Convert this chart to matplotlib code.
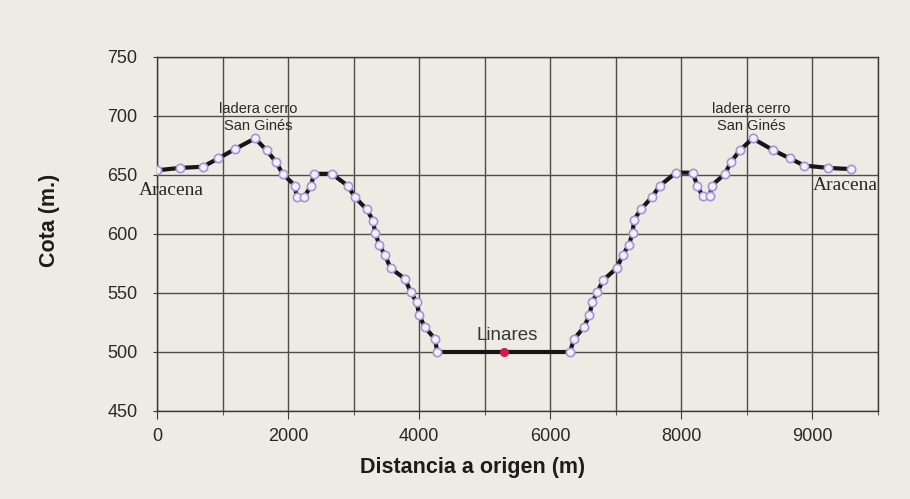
import matplotlib.pyplot as plt
from matplotlib.ticker import MultipleLocator

# profile points (distance m, elevation m)
dist = [0, 351, 697, 936, 1190, 1495, 1673, 1815, 1917, 2105, 2131, 2243,
        2349, 2395, 2665, 2910, 3021, 3199, 3300, 3326, 3392, 3478, 3565,
        3783, 3870, 3962, 4002, 4088, 4241, 4276,
        6300, 6362, 6514, 6595, 6641, 6718, 6809, 7013, 7105, 7201, 7257,
        7277, 7384, 7547, 7673, 7918, 8172, 8243, 8325, 8436, 8462, 8665,
        8757, 8894, 9088, 9402, 9657, 9875, 10241, 10590]
cota = [654, 656, 657, 664, 672, 681, 671, 661, 651, 641, 631, 631,
        641, 651, 651, 641, 631, 621, 611, 601, 591, 582, 571,
        562, 551, 542, 531, 521, 511, 500,
        500, 511, 521, 531, 542, 551, 561, 571, 582, 591, 601,
        612, 621, 631, 641, 652, 652, 641, 632, 632, 641, 651,
        661, 671, 681, 671, 664, 658, 656, 655]

linares_x, linares_y = 5298, 500

xtick_pos = [0, 2000, 4000, 6000, 8000, 10000]
xtick_lab = ['0', '2000', '4000', '6000', '8000', '9000']

paper = '#eeebe5'
fig = plt.figure(figsize=(9.1, 4.99), dpi=100, facecolor=paper)
ax = fig.add_axes([157 / 910, 1 - 411 / 499, (878 - 157) / 910, (411 - 57) / 499])
ax.set_facecolor(paper)

# the flat valley bottom passes through Linares
px = dist[:30] + [linares_x] + dist[30:]
py = cota[:30] + [linares_y] + cota[30:]
ax.plot(px, py, '-', color='#161616', lw=3, zorder=3)
ax.plot(dist, cota, 'o', ms=6, mfc='#f2f0f8', mec='#a395d6', mew=1.2, zorder=4)
ax.plot([linares_x], [linares_y], 'o', ms=5.5, color='#c8204a', zorder=5)

ax.set_xlim(0, 11000)
ax.set_ylim(450, 750)
ax.yaxis.set_major_locator(MultipleLocator(50))
ax.set_xticks(xtick_pos)
ax.set_xticklabels(xtick_lab)
ax.set_xticks(range(0, 11001, 1000), minor=True)
ax.grid(True, which='both', color='#4f4c48', lw=1)
ax.set_axisbelow(True)
for s in ax.spines.values():
    s.set_color('#3a3734')
    s.set_linewidth(1)

ax.tick_params(axis='both', which='both', colors='#3a3734', labelcolor='#2a2826',
               labelsize=13)
ax.tick_params(axis='x', which='major', length=6, pad=6)
ax.tick_params(axis='x', which='minor', length=3)
ax.tick_params(axis='y', length=3, pad=11)
for lab in ax.get_xticklabels() + ax.get_yticklabels():
    lab.set_family('Liberation Sans')

fig.text(473 / 910, 1 - 467 / 499, 'Distancia a origen (m)', ha='center', va='center',
         fontsize=15.5, fontweight='bold', family='Liberation Sans', color='#1e1c1a')
fig.text(50 / 910, 1 - 220 / 499, 'Cota (m.)', ha='center', va='center', rotation=90,
         fontsize=15.5, fontweight='bold', family='Liberation Sans', color='#1e1c1a')

ax.text(1540, 699, 'ladera cerro\nSan Ginés', ha='center', va='center', fontsize=10.5,
        family='Liberation Sans', color='#2a2826', linespacing=1.25)
ax.text(9060, 699, 'ladera cerro\nSan Ginés', ha='center', va='center', fontsize=10.5,
        family='Liberation Sans', color='#2a2826', linespacing=1.25)
ax.text(-280, 637, 'Aracena', ha='left', va='center', fontsize=14,
        family='Liberation Serif', color='#2a2826', clip_on=False)
ax.text(11000, 641, 'Aracena', ha='right', va='center', fontsize=14,
        family='Liberation Serif', color='#2a2826', clip_on=False)
ax.text(5340, 514, 'Linares', ha='center', va='center', fontsize=13.5,
        family='Liberation Sans', color='#3a3734')

fig.savefig('out.png', dpi=100, facecolor=paper)
